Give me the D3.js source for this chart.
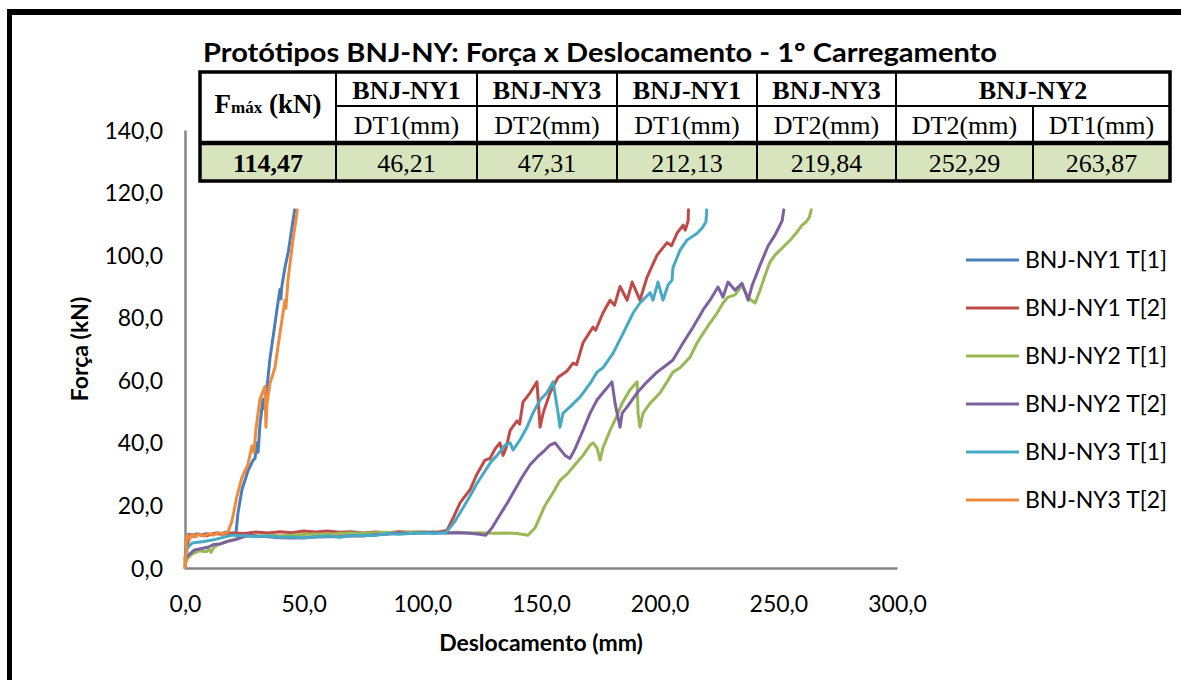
<!DOCTYPE html>
<html><head><meta charset="utf-8">
<script src="https://cdn.jsdelivr.net/npm/d3@7"></script>
<style>
html,body{margin:0;padding:0;background:#fff;}
svg{display:block;}
</style></head>
<body>
<svg id="chart" width="1181" height="680"></svg>
<script>
// ---------------- DATA ----------------
const chartTitle = "Protótipos BNJ-NY: Força x Deslocamento - 1º Carregamento";
const xTicks = [0, 50, 100, 150, 200, 250, 300];
const yTicks = [0, 20, 40, 60, 80, 100, 120, 140];
const xTitle = "Deslocamento (mm)";
const yTitle = "Força (kN)";
const seriesNames = ["BNJ-NY1 T[1]", "BNJ-NY1 T[2]", "BNJ-NY2 T[1]", "BNJ-NY2 T[2]", "BNJ-NY3 T[1]", "BNJ-NY3 T[2]"];
const seriesColors = ["#4A7EBB", "#BE4B48", "#98B954", "#7D60A0", "#46AAC5", "#F08A3C"];

// table
const tableHeadGroups = ["BNJ-NY1", "BNJ-NY3", "BNJ-NY1", "BNJ-NY3", "BNJ-NY2"];
const tableSensors = ["DT1(mm)", "DT2(mm)", "DT1(mm)", "DT2(mm)", "DT2(mm)", "DT1(mm)"];
const tableFmax = "114,47";
const tableDisp = ["46,21", "47,31", "212,13", "219,84", "252,29", "263,87"];

// series [deslocamento (mm), força (kN)]
const ny1t1 = [[0,0],[0.3,5],[0.8,9],[1.5,10.8],[3,10.3],[5,10.9],[7,10.4],[9,11],[11,10.6],[13,11.2],[15,11],[17,11.4],[19,11.1],[21.5,11.2],
  [22.3,17.5],[24,25],[26.5,31],[28.7,34.5],[29.5,35],[30.3,40],[30.8,37],[31.6,46],[32.9,54],[33.3,51],[34.6,58],[35.8,67],[37.9,78],
  [39,84],[40,89],[40.4,86],[40.8,90],[42.1,96],[43.5,101],[44.5,106],[45.5,111],[46.21,114.47]];
const ny1t2 = [[0,3],[0.6,6.4],[1.5,9],[2.5,10.5],[4,10],[6,10.8],[9,10.3],[12,11],[16,10.8],[20,11.2],[25,11],[30,11.5],[35,11.2],[40,11.6],
  [45,11.3],[50,11.8],[55,11.5],[60,11.8],[65,11.4],[70,11.6],[75,11.2],[80,11.5],[85,11.3],[90,11.6],[95,11.4],[100,11.5],[105,11.3],
  [110.4,12],[113,16],[116,21],[120.1,25],[123,30],[126.4,34.5],[128.5,35],[130.6,38],[132.7,40],[134,36],[135.3,38.4],[137,44],
  [139.9,47],[141,46],[142.4,53],[145.4,56],[148.3,59.5],[149.6,45],[150.9,49.5],[153.8,56],[157.2,61],[161,63],[163.5,65.5],[165,65],
  [167.7,72],[171.9,77],[173,76],[176.1,81.5],[179.1,85.6],[181,84],[183.3,90],[186.3,85.6],[188.4,91.4],[191.7,85.6],[194.7,93],
  [198.9,100],[203.1,104],[205,103],[207.3,107],[209.9,109.6],[210.8,108],[212,111],[212.13,114.47]];
const ny2t1 = [[0,1],[1,3],[3,4.5],[6,5.5],[9,5.2],[10,6],[11,5],[12,6.5],[14,7.5],[17,8.3],[20,9],[24,10],[28,10.4],[32,10.2],[36,10.5],
  [40,10.3],[45,10.5],[50,10.7],[55,10.9],[60,10.8],[65,11],[70,11.2],[75,11.1],[80,11.3],[85,11.4],[90,11.2],[95,11.5],[100,11.4],
  [105,11.5],[110,11.3],[115,11.4],[120,11.2],[125,11.3],[130,11.1],[135,11.2],[140,11],[144.5,10.5],[147.5,12.8],[151.7,20],[155,24],
  [158,28],[161,30],[164.3,33],[167.7,36],[170.7,39.3],[171.9,40],[173.6,38.4],[174.9,34.5],[176.1,38.4],[179.1,44],[181.2,47.3],
  [184.2,52.7],[187.5,57],[190.5,59.5],[190.9,49.5],[191.7,45],[193,49.5],[196,52.7],[200.2,56],[203.1,59.5],[205.6,62.6],[208.6,64],
  [212.8,67.4],[215.8,72],[218.3,75],[221.2,78.3],[224.2,81.5],[226.7,84.7],[228.8,86.6],[231.8,87.3],[234.7,90.4],[237.3,86.3],
  [240.2,84.7],[242.3,88.8],[244.4,93.6],[246.5,97.8],[248.6,100],[251.6,102.3],[255,104.8],[257.9,107.4],[260,109.6],[261.7,110.6],
  [263,112],[263.87,114.47]];
const ny2t2 = [[0,2],[0.5,3.5],[4,5.8],[8,6.4],[10,6.7],[12,7.5],[15,7.7],[18,8.5],[21,9],[24,9.8],[27,10.5],[30,10.2],[35,10],[40,9.7],
  [45,9.6],[50,9.7],[55,9.9],[60,10],[65,10.1],[70,10.3],[75,10.2],[80,10.6],[85,10.8],[90,11.2],[95,11],[100,11.3],[105,11.4],[110,11.2],
  [115,11.3],[120,11.1],[124,10.8],[126.8,10.5],[129.5,13],[132.7,17],[136,21],[139,25],[142,29],[145.4,33],[148.5,35.5],[151.7,37.7],
  [153.8,39.3],[155.9,40],[158,38],[160.1,36],[162.2,35],[164.3,38],[167.7,44],[170.7,49.5],[173.6,53.7],[176.1,56],[179.9,59.5],
  [181.2,52.7],[183.3,45],[184.2,49.5],[186.3,51.5],[190.5,56],[194.7,59.5],[198.9,62.6],[201.4,64],[205.6,66.5],[209.9,72],[214.1,77],
  [218.3,82.5],[221.2,85.6],[224.6,89.8],[226.7,86.6],[228.8,91.4],[231.8,88.8],[234.7,91],[237.3,85.6],[239,90.4],[242.3,96.8],
  [245.7,103],[248.6,106.4],[250.3,109],[251.6,111],[252.29,114.47]];
const ny3t1 = [[0,3],[1,6.4],[3,8],[8,8.5],[12,9],[16,9.8],[20,10.5],[25,10.3],[30,10],[35,10.2],[40,9.8],[45,9.9],[50,9.6],[55,10],
  [60,10.2],[65,9.8],[70,10.3],[75,10.5],[80,10.4],[85,11],[90,10.8],[95,11],[100,11.2],[105,11],[110,11.3],[113.8,15],[117,19],
  [120.1,23],[123,27],[126.4,31],[129,34],[131.5,36],[134.9,39.3],[137,40],[138.2,37.7],[141.2,41],[144.1,45],[146.6,49.5],[149.6,53.7],
  [152.5,56],[155.1,59.5],[157.2,49.5],[158,45],[159.3,49.5],[162.2,51.5],[166.5,54.7],[170.7,59],[173.6,62.6],[176.1,64],[180.4,68.7],
  [184.6,75],[188.8,81.5],[191.7,84.7],[196,88],[197.2,85.6],[199.3,91.4],[201.4,85.6],[203.5,90.4],[205.2,92],[205.6,96],[208.6,101.6],
  [211.5,104.8],[215.8,107],[217.9,108.7],[219.5,110.6],[219.84,114.47]];
const ny3t2 = [[0,0],[0.3,4],[0.6,8],[1,10.5],[2,9.3],[3,10.8],[4.5,10],[6,10.9],[8,10.2],[10,11],[12,10.5],[14,11.3],[16,11],[18,11.3],
  [19.8,15],[21.9,23],[24,29],[26.5,33],[28.2,39],[29,37],[30,45],[31.6,54],[33.7,58],[34.1,45],[34.5,52],[35.8,59],[37.9,64],[40,75],
  [42.1,85.6],[42.5,83],[43,88],[43.4,92],[45.5,105],[46.5,110],[47.31,114.47]];
const seriesData = [ny1t1, ny1t2, ny2t1, ny2t2, ny3t1, ny3t2];

// ---------------- DRAW ----------------
const svg = d3.select("#chart");
const SANS = "Lato, 'Open Sans', sans-serif";
const SERIF = "'Liberation Serif', 'Times New Roman', serif";

const x = d3.scaleLinear().domain([0, 300]).range([185, 897]);
const y = d3.scaleLinear().domain([0, 140]).range([568, 130]);
const fmt = d => d.toFixed(1).replace(".", ",");

// outer frame
svg.append("line").attr("x1", 9.5).attr("y1", 9).attr("x2", 9.5).attr("y2", 700).attr("stroke", "#000").attr("stroke-width", 5);
svg.append("line").attr("x1", 7).attr("y1", 12).attr("x2", 1200).attr("y2", 12).attr("stroke", "#000").attr("stroke-width", 6);

// axes
const gx = svg.append("g").attr("transform", `translate(0,${y(0)})`)
  .call(d3.axisBottom(x).tickValues(xTicks).tickFormat(fmt).tickSize(0).tickSizeOuter(0));
gx.select(".domain").attr("stroke", "#868686").attr("stroke-width", 2.5);
gx.selectAll("text").attr("y", 36).attr("dy", "0.35em").attr("font-family", SANS).attr("font-size", 23).attr("fill", "#000");

const gy = svg.append("g").attr("transform", `translate(${x(0)},0)`)
  .call(d3.axisLeft(y).tickValues(yTicks).tickFormat(fmt).tickSize(0).tickSizeOuter(0));
gy.select(".domain").attr("stroke", "#868686").attr("stroke-width", 2.5);
gy.selectAll("text").attr("x", -22).attr("dy", "0.35em").attr("font-family", SANS).attr("font-size", 23).attr("fill", "#000");

// axis titles
svg.append("text").attr("x", 541).attr("y", 643).attr("dy", "0.35em").attr("text-anchor", "middle")
  .attr("font-family", SANS).attr("font-weight", "bold").attr("font-size", 23).text(xTitle);
svg.append("text").attr("transform", "translate(80,349) rotate(-90)").attr("dy", "0.35em").attr("text-anchor", "middle")
  .attr("font-family", SANS).attr("font-weight", "bold").attr("font-size", 23).text(yTitle);

// series
const line = d3.line().x(d => x(d[0])).y(d => y(d[1]));
svg.append("g").selectAll("path").data(seriesData).join("path")
  .attr("d", line).attr("fill", "none")
  .attr("stroke", (d, i) => seriesColors[i]).attr("stroke-width", 3)
  .attr("stroke-linejoin", "round").attr("stroke-linecap", "round");

// legend
const lg = svg.append("g");
seriesNames.forEach((n, i) => {
  const ly = 260 + i * 48;
  lg.append("line").attr("x1", 966).attr("x2", 1019).attr("y1", ly).attr("y2", ly)
    .attr("stroke", seriesColors[i]).attr("stroke-width", 3);
  lg.append("text").attr("x", 1025).attr("y", ly).attr("dy", "0.35em")
    .attr("font-family", SANS).attr("font-size", 23).attr("fill", "#000").text(n);
});

// title
svg.append("text").attr("x", 203).attr("y", 62)
  .attr("font-family", SANS).attr("font-weight", "bold").attr("font-size", 26)
  .attr("textLength", 794).attr("lengthAdjust", "spacingAndGlyphs").text(chartTitle);

// table
const colX = [200, 336, 477, 617, 757, 896, 1033, 1170];
const rowY = [72, 106, 143, 181];
const tg = svg.append("g");
tg.append("rect").attr("x", colX[0]).attr("y", rowY[2]).attr("width", colX[7] - colX[0]).attr("height", rowY[3] - rowY[2])
  .attr("fill", "#D7E4BD");
const L = (x1, y1, x2, y2, w) => tg.append("line").attr("x1", x1).attr("y1", y1).attr("x2", x2).attr("y2", y2)
  .attr("stroke", "#000").attr("stroke-width", w);
[1, 2, 3, 4, 5].forEach(c => L(colX[c], rowY[0], colX[c], rowY[3], 2));
L(colX[6], rowY[1], colX[6], rowY[3], 2);
L(colX[1], rowY[1], colX[7], rowY[1], 2);
L(colX[0], rowY[2], colX[7], rowY[2], 4.5);
tg.append("rect").attr("x", colX[0]).attr("y", rowY[0]).attr("width", colX[7] - colX[0]).attr("height", rowY[3] - rowY[0])
  .attr("fill", "none").attr("stroke", "#000").attr("stroke-width", 3.5);

const T = (cx, cy, txt, bold) => tg.append("text").attr("x", cx).attr("y", cy).attr("dy", "0.35em")
  .attr("text-anchor", "middle").attr("font-family", SERIF).attr("font-size", 26)
  .attr("font-weight", bold ? "bold" : "normal").attr("fill", "#000").text(txt);
const hdrSpans = [[1, 2], [2, 3], [3, 4], [4, 5], [5, 7]];
tableHeadGroups.forEach((h, i) => T((colX[hdrSpans[i][0]] + colX[hdrSpans[i][1]]) / 2, (rowY[0] + rowY[1]) / 2 + 1, h, true));
tableSensors.forEach((s, i) => T((colX[i + 1] + colX[i + 2]) / 2, (rowY[1] + rowY[2]) / 2, s, false));
T((colX[0] + colX[1]) / 2, (rowY[2] + rowY[3]) / 2 + 1, tableFmax, true);
tableDisp.forEach((s, i) => T((colX[i + 1] + colX[i + 2]) / 2, (rowY[2] + rowY[3]) / 2 + 1, s, false));
const ft = tg.append("text").attr("x", (colX[0] + colX[1]) / 2).attr("y", (rowY[0] + rowY[2]) / 2).attr("dy", "0.35em")
  .attr("text-anchor", "middle").attr("font-family", SERIF).attr("font-weight", "bold").attr("fill", "#000");
ft.append("tspan").attr("font-size", 27).text("F");
ft.append("tspan").attr("font-size", 17).text("máx");
ft.append("tspan").attr("font-size", 27).text(" (kN)");
</script>
</body></html>
